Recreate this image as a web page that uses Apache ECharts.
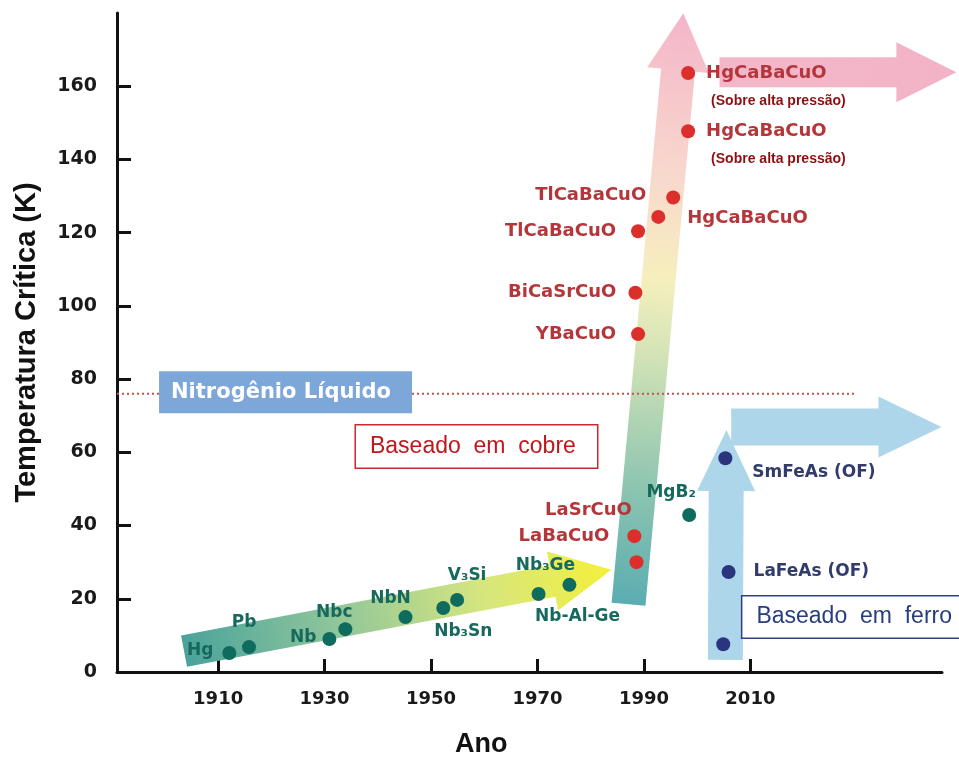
<!DOCTYPE html>
<html>
<head>
<meta charset="utf-8">
<script src="https://cdn.jsdelivr.net/npm/echarts@6/dist/echarts.min.js"></script>
<style>html,body{margin:0;padding:0;background:#fff;}#c{width:959px;height:758px;}</style>
</head>
<body>
<div id="c"></div>
<script>
// ---------- data ----------
const xTicks = [1910, 1930, 1950, 1970, 1990, 2010];
const yTicks = [0, 20, 40, 60, 80, 100, 120, 140, 160];

// conventional superconductors (teal)
const greenNames = ['Hg', 'Pb', 'Nb', 'Nbc', 'NbN', 'Nb₃Sn', 'V₃Si', 'Nb-Al-Ge', 'Nb₃Ge', 'MgB₂'];
const greenYears = [1912.1, 1915.8, 1930.9, 1933.9, 1945.2, 1952.3, 1954.9, 1970.2, 1976.0, 1998.5];
const greenTc    = [5.2, 6.8, 9.0, 11.7, 15.0, 17.5, 19.7, 21.3, 23.8, 42.9];

// copper based (red)
const redNames = ['LaSrCuO', 'LaBaCuO', 'YBaCuO', 'BiCaSrCuO', 'TlCaBaCuO', 'HgCaBaCuO', 'TlCaBaCuO', 'HgCaBaCuO', 'HgCaBaCuO'];
const redNotes = ['', '', '', '', '', '', '', '(Sobre alta pressão)', '(Sobre alta pressão)'];
const redYears = [1988.6, 1988.2, 1988.9, 1988.4, 1988.9, 1992.7, 1995.5, 1998.3, 1998.3];
const redTc    = [30.0, 37.1, 92.3, 103.6, 120.4, 124.3, 129.6, 147.7, 163.6];

// iron based (navy)
const navyNames = ['SmFeAs (OF)', 'LaFeAs (OF)', ''];
const navyYears = [2005.3, 2005.9, 2004.9];
const navyTc    = [58.4, 27.3, 7.6];

// liquid nitrogen reference line
const n2Tc = 76;
const n2Years = [1891, 2030];

// trend arrows (tail -> tip, in year / K)
const arrowFrom = [[1903.6, 5.7], [1987.1, 18.5], [2004.2, 163.8], [2005.3, 3.3], [2006.4, 66.9]];
const arrowTo   = [[1983.9, 27.9], [1997.4, 179.9], [2048.7, 163.8], [2005.5, 66.1], [2045.9, 66.9]];

// annotation boxes
const noteTexts = ['Nitrogênio Líquido', 'Baseado  em  cobre', 'Baseado  em  ferro'];
const noteYears = [1898.9, 1935.9, 2008.5];
const noteTc    = [76.4, 61.6, 15.0];

// ---------- styles ----------
const labelFont = 'DejaVu Sans';
const greenLabelLayout = [
  {position: 'left', distance: 9, offset: [0, -2]},
  {position: 'inside', offset: [-5, -25]},
  {position: 'left', distance: 6, offset: [0, -1]},
  {position: 'inside', offset: [-11, -17]},
  {position: 'inside', offset: [-15, -19]},
  {position: 'inside', offset: [20, 24]},
  {position: 'inside', offset: [10, -24]},
  {position: 'inside', offset: [39, 23]},
  {position: 'inside', offset: [-24, -19]},
  {position: 'inside', offset: [-18, -22]}
];
const redLabelLayout = [
  {position: 'inside', offset: [-48, -52]},
  {position: 'left', distance: 18, offset: [0, 0]},
  {position: 'left', distance: 15, offset: [0, 0]},
  {position: 'left', distance: 12, offset: [0, 0]},
  {position: 'left', distance: 15, offset: [0, 0]},
  {position: 'right', distance: 22, offset: [0, 1]},
  {position: 'left', distance: 20, offset: [0, -2]},
  {position: 'right', distance: 11, offset: [0, 14]},
  {position: 'right', distance: 11, offset: [0, 14]}
];
const navyLabelLayout = [
  {position: 'right', distance: 20, offset: [0, 14]},
  {position: 'right', distance: 18, offset: [0, 0]},
  {position: 'right', distance: 18, offset: [0, 0]}
];
const arrowStyles = [
  {w: 16, hw: 30, head: 60, stops: [[0, '#4aa39b'], [0.35, '#8fc59b'], [0.7, '#d6e67f'], [1, '#f4f03a']]},
  {w: 17, hw: 31, head: 57, stops: [[0, '#5aadb1'], [0.2, '#8ec5b0'], [0.42, '#d2e3b6'], [0.55, '#f6efbd'], [0.72, '#f8d9cd'], [1, '#f4b5c9']]},
  {w: 15, hw: 30, head: 60, stops: [[0, '#f4b7ca'], [1, '#f3b3c7']]},
  {w: 17.5, hw: 29, head: 61, stops: [[0, '#add6eb'], [1, '#add6eb']]},
  {w: 18.5, hw: 30.5, head: 63, stops: [[0, '#add6eb'], [1, '#add6eb']]}
];
const noteStyles = [
  {color: '#fff', backgroundColor: '#7ea7d9', borderColor: 'transparent', borderWidth: 0,
   fontFamily: 'DejaVu Sans', fontWeight: 'bold', fontSize: 21, width: 229, lineHeight: 42, padding: [0, 12]},
  {color: '#c0161c', backgroundColor: '#fff', borderColor: '#c62a2f', borderWidth: 1.5,
   fontFamily: 'Liberation Sans', fontWeight: 'normal', fontSize: 23, width: 213, lineHeight: 42, padding: [0, 14]},
  {color: '#283e7c', backgroundColor: '#fff', borderColor: '#2c4282', borderWidth: 1.5,
   fontFamily: 'Liberation Sans', fontWeight: 'normal', fontSize: 23, width: 240, lineHeight: 41, padding: [0, 14]}
];

function scatterData(names, xs, ys, layout, color, size, notes) {
  return names.map((n, i) => ({
    value: [xs[i], ys[i]],
    name: n,
    label: Object.assign({
      show: n !== '',
      formatter: notes && notes[i] ? '{n|' + n + '}\n{s|' + notes[i] + '}' : n,
      color: color,
      fontFamily: labelFont,
      fontWeight: 'bold',
      fontSize: size,
      rich: {
        n: {color: color, fontFamily: labelFont, fontWeight: 'bold', fontSize: size, lineHeight: 28},
        s: {color: '#8d0f12', fontFamily: 'Liberation Sans', fontWeight: 'bold', fontSize: 14, lineHeight: 28, padding: [0, 0, 0, 5]}
      }
    }, layout[i])
  }));
}

function renderArrow(params, api) {
  const i = params.dataIndex;
  const st = arrowStyles[i];
  const a = api.coord([api.value(0), api.value(1)]);
  const b = api.coord([api.value(2), api.value(3)]);
  const dx = b[0] - a[0], dy = b[1] - a[1];
  const len = Math.hypot(dx, dy);
  const ux = dx / len, uy = dy / len;
  const px = -uy, py = ux;
  const base = [b[0] - ux * st.head, b[1] - uy * st.head];
  const pts = [
    [a[0] + px * st.w, a[1] + py * st.w],
    [base[0] + px * st.w, base[1] + py * st.w],
    [base[0] + px * st.hw, base[1] + py * st.hw],
    [b[0], b[1]],
    [base[0] - px * st.hw, base[1] - py * st.hw],
    [base[0] - px * st.w, base[1] - py * st.w],
    [a[0] - px * st.w, a[1] - py * st.w]
  ];
  const grad = new echarts.graphic.LinearGradient(a[0], a[1], b[0], b[1],
    st.stops.map(s => ({offset: s[0], color: s[1]})), true);
  return {type: 'polygon', shape: {points: pts}, style: {fill: grad}, silent: true};
}

const chart = echarts.init(document.getElementById('c'), null, {renderer: 'canvas'});
chart.setOption({
  animation: false,
  backgroundColor: '#fff',
  title: {
    text: 'Ano', left: 450, top: 726,
    textStyle: {fontFamily: 'Liberation Sans', fontWeight: 'bold', fontSize: 27, color: '#111'}
  },
  grid: {left: 117, right: 17, top: 13, bottom: 86, containLabel: false},
  xAxis: {
    type: 'value', min: 1891, max: 2046,
    axisLine: {show: true, onZero: false, lineStyle: {color: '#111', width: 3}},
    axisTick: {show: true, inside: true, length: 13, lineStyle: {color: '#111', width: 3}, customValues: xTicks},
    axisLabel: {customValues: xTicks, formatter: v => String(v), margin: 18, color: '#1a1a1a', fontFamily: 'DejaVu Sans', fontWeight: 'bold', fontSize: 18},
    splitLine: {show: false}
  },
  yAxis: {
    type: 'value', min: 0, max: 180,
    name: 'Temperatura Crítica (K)', nameLocation: 'middle', nameGap: 76,
    nameTextStyle: {fontFamily: 'Liberation Sans', fontWeight: 'bold', fontSize: 29, color: '#111'},
    axisLine: {show: true, onZero: false, lineStyle: {color: '#111', width: 3}},
    axisTick: {show: true, inside: true, length: 14, lineStyle: {color: '#111', width: 3}, customValues: yTicks},
    axisLabel: {customValues: yTicks, formatter: v => String(v), margin: 20, color: '#1a1a1a', fontFamily: 'DejaVu Sans', fontWeight: 'bold', fontSize: 19},
    splitLine: {show: false}
  },
  series: [
    {
      type: 'custom', name: 'arrows', z: 1, clip: false, silent: true,
      renderItem: renderArrow,
      data: arrowFrom.map((f, i) => [f[0], f[1], arrowTo[i][0], arrowTo[i][1]]),
      encode: {x: [0, 2], y: [1, 3]}
    },
    {
      type: 'line', name: 'N2', z: 2, silent: true, symbol: 'none',
      data: n2Years.map(x => [x, n2Tc]),
      lineStyle: {color: '#c8504e', width: 2, type: [2, 3]}
    },
    {
      type: 'scatter', name: 'notes', z: 6, silent: true, symbolSize: 0,
      itemStyle: {opacity: 1},
      data: noteTexts.map((t, i) => ({
        value: [noteYears[i], noteTc[i]],
        label: Object.assign({show: true, position: 'right', distance: 0, formatter: t, align: 'left'}, noteStyles[i])
      }))
    },
    {
      type: 'scatter', name: 'conv', z: 4, symbolSize: 14, silent: true,
      itemStyle: {color: '#0f6b5e', opacity: 1},
      data: scatterData(greenNames, greenYears, greenTc, greenLabelLayout, '#17695d', 17)
    },
    {
      type: 'scatter', name: 'cu', z: 4, symbolSize: 14, silent: true,
      itemStyle: {color: '#dc2f2c', opacity: 1},
      data: scatterData(redNames, redYears, redTc, redLabelLayout, '#b5363a', 18, redNotes)
    },
    {
      type: 'scatter', name: 'fe', z: 4, symbolSize: 14, silent: true,
      itemStyle: {color: '#2a347f', opacity: 1},
      data: scatterData(navyNames, navyYears, navyTc, navyLabelLayout, '#323c6c', 17)
    }
  ]
});
</script>
</body>
</html>
